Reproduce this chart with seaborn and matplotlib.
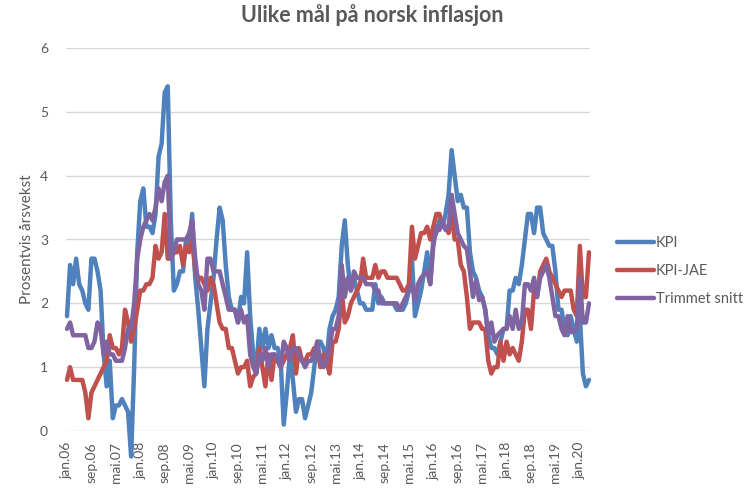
import numpy as np
import pandas as pd
import matplotlib
matplotlib.use("Agg")
import matplotlib.pyplot as plt
from matplotlib.lines import Line2D
import seaborn as sns

# Monthly 12-month growth, jan 2006 - apr 2020
kpi = [
    1.8, 2.6, 2.3, 2.7, 2.3, 2.2, 2.0, 1.9, 2.7, 2.7, 2.5, 2.2,   # 2006
    1.2, 0.7, 1.1, 0.2, 0.4, 0.4, 0.5, 0.4, 0.3, -0.4, 1.0, 2.8,  # 2007
    3.6, 3.8, 3.2, 3.2, 3.1, 3.4, 4.3, 4.5, 5.3, 5.4, 3.3, 2.2,   # 2008
    2.3, 2.5, 2.5, 3.0, 2.9, 3.4, 2.4, 1.9, 1.3, 0.7, 1.6, 2.0,   # 2009
    2.4, 3.0, 3.5, 3.3, 2.6, 2.1, 1.9, 1.9, 1.7, 2.1, 2.0, 2.8,   # 2010
    1.8, 1.2, 1.0, 1.6, 1.3, 1.6, 1.3, 1.5, 1.3, 1.3, 1.1, 0.1,   # 2011
    0.6, 1.2, 0.8, 0.3, 0.5, 0.5, 0.2, 0.4, 0.6, 1.0, 1.4, 1.4,   # 2012
    1.3, 1.1, 1.6, 1.8, 1.9, 2.1, 2.9, 3.3, 2.6, 2.2, 2.4, 2.2,   # 2013
    2.0, 2.0, 1.9, 1.9, 1.9, 2.3, 2.0, 2.1, 2.0, 2.0, 2.0, 2.0,   # 2014
    1.9, 1.9, 1.9, 2.0, 2.2, 2.7, 1.8, 2.0, 2.2, 2.5, 2.8, 2.3,   # 2015
    3.0, 3.1, 3.3, 3.2, 3.4, 3.7, 4.4, 4.0, 3.6, 3.7, 3.5, 3.5,   # 2016
    2.8, 2.5, 2.4, 2.2, 2.1, 1.9, 1.5, 1.3, 1.3, 1.2, 1.4, 1.6,   # 2017
    1.6, 2.2, 2.2, 2.4, 2.3, 2.6, 3.0, 3.4, 3.4, 3.1, 3.5, 3.5,   # 2018
    3.1, 3.0, 2.9, 2.9, 2.5, 1.9, 1.9, 1.6, 1.5, 1.8, 1.6, 1.4,   # 2019
    1.8, 0.9, 0.7, 0.8,                                           # 2020
]
kpi_jae = [
    0.8, 1.0, 0.8, 0.8, 0.8, 0.8, 0.6, 0.2, 0.6, 0.7, 0.8, 0.9,
    1.0, 1.1, 1.5, 1.3, 1.3, 1.2, 1.3, 1.9, 1.7, 1.4, 1.6, 1.9,
    2.2, 2.2, 2.3, 2.3, 2.4, 2.9, 2.7, 2.8, 3.4, 2.7, 2.7, 2.8,
    2.8, 2.9, 2.6, 2.9, 2.8, 3.0, 2.5, 2.4, 2.4, 2.3, 2.2, 2.4,
    2.3, 2.0, 1.7, 1.6, 1.6, 1.3, 1.3, 1.1, 0.9, 1.0, 1.0, 1.1,
    0.7, 0.85, 0.9, 1.3, 1.0, 0.7, 1.2, 0.8, 1.2, 1.1, 1.0, 1.1,
    1.2, 1.3, 1.5, 0.9, 1.3, 1.1, 1.1, 1.2, 1.2, 1.3, 1.3, 1.0,
    1.2, 1.1, 0.9, 1.4, 1.4, 1.6, 2.2, 1.7, 1.8, 2.0, 2.1, 2.2,
    2.3, 2.7, 2.4, 2.4, 2.4, 2.6, 2.4, 2.5, 2.5, 2.4, 2.4, 2.4,
    2.4, 2.3, 2.2, 2.2, 2.3, 3.2, 2.7, 2.9, 3.1, 3.1, 3.2, 3.0,
    3.2, 3.4, 3.4, 3.2, 3.2, 3.1, 3.4, 3.0, 3.0, 2.6, 2.5, 2.1,
    1.6, 1.7, 1.7, 1.7, 1.6, 1.6, 1.1, 0.9, 1.0, 1.0, 1.4, 1.1,
    1.4, 1.2, 1.3, 1.2, 1.1, 1.4, 1.9, 1.9, 1.6, 2.2, 2.1, 2.5,
    2.6, 2.7, 2.5, 2.4, 2.3, 2.2, 2.1, 2.2, 2.2, 2.2, 1.9, 1.8,
    2.9, 2.1, 2.1, 2.8,
]
trimmet_snitt = [
    1.6, 1.7, 1.5, 1.5, 1.5, 1.5, 1.5, 1.3, 1.3, 1.4, 1.7, 1.6,
    1.2, 1.4, 1.2, 1.2, 1.1, 1.1, 1.1, 1.3, 1.6, 1.6, 2.0, 2.7,
    3.0, 3.2, 3.3, 3.4, 3.3, 3.5, 3.8, 3.6, 3.9, 4.0, 2.7, 2.8,
    3.0, 3.0, 3.0, 3.0, 3.1, 3.3, 2.7, 2.3, 2.2, 1.9, 2.7, 2.7,
    2.5, 2.5, 2.5, 2.3, 2.1, 1.9, 1.9, 1.9, 1.7, 1.9, 1.7, 1.8,
    1.2, 1.0, 0.9, 1.2, 1.1, 1.3, 1.0, 1.2, 1.2, 1.1, 1.0, 1.4,
    1.3, 1.1, 1.3, 1.3, 1.2, 1.1, 1.0, 1.1, 1.1, 1.2, 1.4, 1.1,
    1.0, 1.1, 1.3, 1.6, 1.6, 1.8, 2.6, 2.1, 2.4, 2.2, 2.5, 2.4,
    2.4, 2.4, 2.3, 2.3, 2.3, 2.2, 2.2, 2.0, 2.0, 2.0, 2.0, 2.0,
    2.0, 1.9, 2.0, 2.1, 2.2, 2.3, 2.05, 2.3, 2.4, 2.45, 2.5, 2.3,
    2.9, 3.2, 3.15, 3.3, 3.15, 3.2, 3.7, 3.4, 3.1, 3.0, 2.9, 2.85,
    2.5, 2.1, 2.35, 2.05, 2.1, 1.9, 1.5, 1.7, 1.4, 1.5, 1.55, 1.6,
    1.6, 1.8, 1.6, 1.9, 1.6, 1.7, 2.3, 2.3, 2.2, 2.4, 2.1, 2.4,
    2.5, 2.6, 2.4, 2.1, 1.8, 1.8, 1.6, 1.5, 1.8, 1.55, 1.55, 1.6,
    2.4, 1.7, 1.7, 2.0,
]
series_names = ["KPI", "KPI-JAE", "Trimmet snitt"]
tick_labels = ["jan.06", "sep.06", "mai.07", "jan.08", "sep.08", "mai.09",
               "jan.10", "sep.10", "mai.11", "jan.12", "sep.12", "mai.13",
               "jan.14", "sep.14", "mai.15", "jan.16", "sep.16", "mai.17",
               "jan.18", "sep.18", "mai.19", "jan.20"]
colors = ["#4F81BD", "#C0504D", "#8064A2"]

n = len(kpi)
df = pd.DataFrame({
    "t": np.tile(np.arange(n), 3),
    "verdi": kpi + kpi_jae + trimmet_snitt,
    "serie": np.repeat(series_names, n),
})

sns.set_theme(style="white")
plt.rcParams["font.family"] = ["Lato", "DejaVu Sans"]
text_col = "#595959"

fig = plt.figure(figsize=(7.44, 4.90), dpi=100)
ax = fig.add_axes([66 / 744, 1 - 431 / 490, (590 - 66) / 744, (431 - 48) / 490])
sns.lineplot(data=df, x="t", y="verdi", hue="serie", hue_order=series_names,
             palette=colors, linewidth=3.2, ax=ax, legend=False)
for ln in ax.lines:
    ln.set_clip_on(False)
    ln.set_solid_joinstyle("round")
    ln.set_solid_capstyle("round")

ax.set_ylim(0, 6)
ax.set_xlim(-0.33, n - 1 + 0.33)
ax.set_yticks(range(7))
ax.yaxis.grid(True, color="#D9D9D9", linewidth=1)
ax.xaxis.grid(False)
ax.set_axisbelow(True)
for s in ax.spines.values():
    s.set_visible(False)
ax.set_xticks(range(0, n, 8))
ax.set_xticklabels(tick_labels, rotation=90)
ax.tick_params(axis="both", length=0, colors=text_col, labelsize=10)
ax.tick_params(axis="x", pad=8)
ax.tick_params(axis="y", pad=13)
ax.set_xlabel("")
ax.set_ylabel("Prosentvis årsvekst", fontsize=11, color=text_col, labelpad=4)

handles = [Line2D([0], [0], color=c, linewidth=3.2) for c in colors]
fig.legend(handles, series_names, loc="center left",
           bbox_to_anchor=(604 / 744, 1 - 271 / 490), frameon=False,
           fontsize=10.5, handlelength=2.5, handletextpad=0.15,
           labelspacing=0.95, labelcolor=text_col)

fig.text(372 / 744, 1 - 15 / 490, "Ulike mål på norsk inflasjon", ha="center",
         va="center", fontsize=15.5, fontweight="bold", color=text_col)

fig.savefig("out.png", dpi=100)
